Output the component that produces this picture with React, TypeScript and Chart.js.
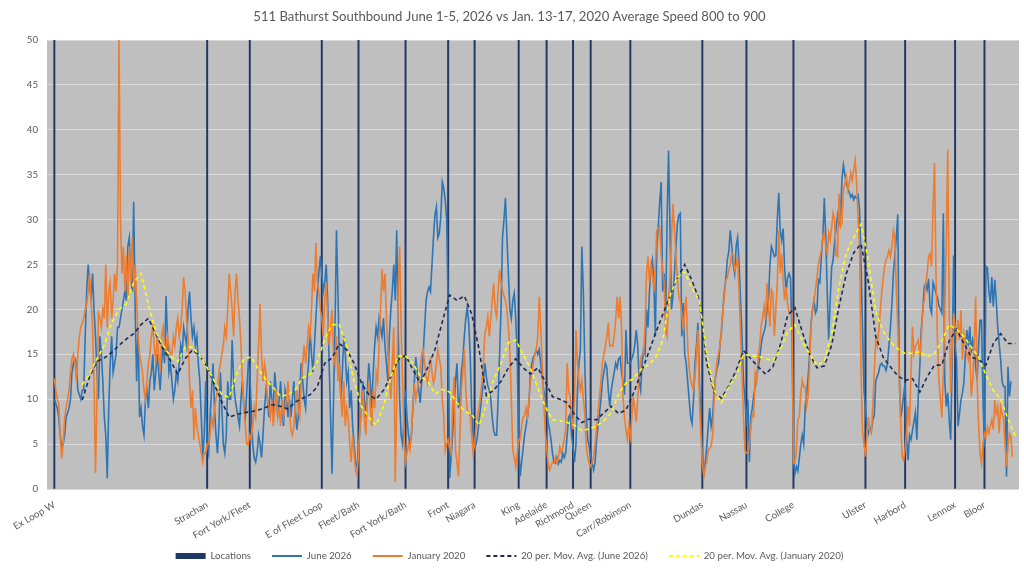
import React, { useEffect, useRef } from "react";
import { Chart, registerables } from "chart.js";

Chart.register(...registerables);

const TITLE = "511 Bathurst Southbound June 1-5, 2026 vs Jan. 13-17, 2020 Average Speed 800 to 900";
const FONT = "Lato, 'Open Sans', sans-serif";
const TEXT_COLOR = "#595959";

const LOCATION_NAMES = [
  "Ex Loop W", "Strachan", "Fort York/Fleet", "E of Fleet Loop", "Fleet/Bath", "Fort York/Bath",
  "Front", "Niagara", "King", "Adelaide", "Richmond", "Queen", "Carr/Robinson", "Dundas",
  "Nassau", "College", "Ulster", "Harbord", "Lennox", "Bloor",
];
const LOCATION_INDEX = [0, 104, 133, 182, 207, 239, 268, 286, 316, 335, 353, 365, 392, 441, 471, 503, 552, 579, 613, 633];
const LOCATION_HEIGHT = 50;

const JUNE_2026 = [
  10, 9.5, 9, 8, 6, 4.7, 5, 6, 8, 8.5, 9, 10, 13, 14, 14.5, 14, 11, 10.5, 10, 11,
  11, 17, 22, 25, 23, 21, 24, 20, 17, 13, 10, 17, 15, 12, 8, 6, 1.2, 9, 14, 17,
  13, 14, 15, 18, 18, 19, 20, 21, 22, 21, 27, 28, 24, 22, 32, 20, 12, 18, 8, 9,
  7, 6, 10, 11, 9, 12, 13, 15, 11, 13, 15, 13, 11, 14, 16, 14, 21.5, 17, 13, 14,
  12, 10, 11, 13, 12, 14, 16, 15, 18, 17, 16, 20, 22, 19, 17, 18, 16, 17, 14, 12,
  8, 3.5, 6, 12, 5, 4, 8, 11, 14, 9, 6, 4, 7, 13, 9, 5, 4, 6, 12, 10,
  10, 16.6, 12, 10, 9, 8, 7, 10, 12, 9, 8, 11, 14, 13, 9, 5, 3.5, 3, 4, 6,
  5, 3.5, 6, 9, 11, 10, 8, 12, 10, 9, 13, 11, 8, 10, 12, 9, 7, 11, 10, 8,
  10, 8, 10, 12, 9, 6.6, 8, 11, 14, 12, 10, 9, 12, 14, 17.7, 15, 13, 16, 19, 22,
  24, 25.9, 24, 22, 23, 25, 21, 14, 8, 1.7, 10, 18, 28.8, 22, 14, 10, 13, 17, 15, 12,
  13, 9, 11, 7, 5, 3, 2.5, 4, 7, 9, 12, 10, 8, 11, 14, 12, 9, 13, 16, 18,
  17, 19, 18, 17, 19, 16, 14, 12, 17, 20, 22, 25, 21, 28.8, 18, 10, 6, 5, 8, 11,
  8, 6, 5,
  6, 9, 12, 14.7, 13, 11, 9.6, 12, 15, 18,
  21, 22, 22.5, 22, 25, 28, 30.5, 31.4, 28, 28.5,
  30.3, 34.2, 33.5, 32.2, 30, 20, 1.2, 3.5, 6, 9,
  12, 14, 9, 10, 13, 14.5, 17, 19, 20.3, 18.5,
  15, 9, 6, 5.1, 5, 6, 7.5, 9, 10.5, 12,
  14, 12.5, 11.5, 11, 10, 8, 6.5, 6, 6, 10,
  15, 20, 28, 30, 32.4, 28, 24, 20, 19, 21,
  21.8, 19, 15, 5, 1.4, 3, 4.5, 6, 7, 8,
  9.6,
  13, 14, 14.7, 15, 15.5, 15, 15.5, 14, 12.5, 11,
  10.3, 9, 7.5, 6.6, 5.5, 4, 3, 2.9, 3.5, 2.8,
  3.2, 3, 4, 3.5, 4, 6, 8, 8.3, 6, 4.7,
  3, 5, 11, 14, 15.5, 27, 22, 14, 8, 5.5,
  4.7, 3.5, 2.9, 2.1, 3, 5.4, 7, 8.4, 10, 12,
  13, 14, 13.5, 11, 9.2, 11, 12, 13, 14, 13.5,
  14.5, 14.7, 13, 12, 10.5, 17.7, 14, 14,
  14, 14.5, 15, 16, 17.7, 16, 12, 11, 14, 15.5,
  15, 20, 18, 22, 24.5, 25.5, 23, 17, 27, 29.2,
  32, 34.2, 22, 24, 19, 30, 37.7, 28.8, 20, 21.5,
  24, 27, 29.5, 30.5, 30.7, 17, 20.7, 15, 14, 12,
  10, 8, 7.3, 10, 14, 16, 18.5, 12, 8, 4,
  1.4, 3, 4.7, 7, 9, 7, 8, 11, 12.5, 13.5,
  14, 16, 17.5, 20, 22, 23.5, 25.5, 26.5, 28.8, 27,
  25, 24, 27, 28, 25, 21, 17, 12, 10, 7,
  10, 3,
  8, 9, 10.5, 11.4, 12.5, 13.5, 14.5, 16, 17, 17.5,
  18.2, 20, 21, 25, 27, 26.5, 25.9, 26, 30, 33,
  28.8, 27.7, 29, 24.5, 22, 23.5, 24, 23.5, 17, 3.2,
  1.7, 2.5, 2, 3.5, 5, 6, 5, 9.2, 10.5, 12.5,
  15, 18.5, 20, 21, 19.6, 20, 23.3, 23, 26, 28,
  32.4, 28, 22, 16.6, 21, 24.7, 25.5, 27.5, 29, 30.5,
  29.5, 30, 34.5, 36.1, 35, 34, 33.5, 33, 32.5, 32.8,
  32.2, 32.6, 32.4, 32.7, 31, 25, 18, 11,
  9, 7, 6.2, 6.9, 6.5, 7.7, 8.2, 12, 12.5, 13,
  13.8, 14, 13.7, 13.7, 13.2, 14, 16, 18, 20.5, 24,
  25.9, 28, 30.6, 13, 8, 9, 10.5, 11.8, 5.5, 3.2,
  6, 5.5, 6.5, 7.5, 8.5, 5.5, 10.6, 13.6, 17.8, 19.8,
  22.5, 22.9, 22.2, 23.4, 20.2, 19.6, 23, 22.5, 21.8, 21.3,
  20.4, 20, 19.6, 30.7, 12, 9.2, 10.7, 7.7, 5.5, 14,
  26, 16, 14.4, 7, 8.4, 9.9, 10.7, 11.8, 15, 17.7,
  15.9, 18.1, 15.1, 16.6, 15.9, 13.6, 12.1, 16, 18.8, 18.8,
  10, 4.7, 24.8, 24.6, 22, 20.7, 23.6, 20.3, 23.3, 21,
  18.1, 16.2, 14.4, 12, 11.4, 11.4, 1.4, 13.6, 10.3, 12,
];

const JANUARY_2020 = [
  12.3, 11, 10, 9.5, 6, 3.4, 5, 8, 9, 10, 11, 13, 14.5, 15, 14, 12, 15, 17, 18, 18.5,
  19, 20, 20.5, 22, 24, 21, 18, 12, 1.8, 10, 19.6, 19, 18, 20, 19, 25, 18, 22, 23, 19,
  21, 24, 22, 25, 50, 30, 24, 27, 22, 26, 21, 27, 23, 28, 22, 25, 21, 17, 15, 14,
  13, 11, 10, 12, 14, 15, 17, 18, 16, 14, 17, 15, 13, 17, 18, 16, 15, 17, 16, 15,
  15, 17, 16, 18, 19, 17, 18, 20, 23.6, 22, 19, 17, 12, 9, 11, 5.5, 9, 7, 6, 5,
  4, 3, 4, 4, 5, 5, 6, 8, 7, 9, 10, 11, 13, 14, 15, 16, 18, 17, 20, 24,
  22, 20, 17, 22, 24, 21, 19, 16, 12, 9, 7, 5, 5, 6, 5.5, 7, 9, 8, 12, 16,
  20.6, 15, 12, 14, 13, 10, 9, 8, 10, 7, 9, 11, 8, 9, 7, 10, 8, 9, 10, 12,
  9, 6.6, 6, 7, 9, 11, 9, 8, 12, 14, 16, 14, 16, 18, 17, 20, 24, 22, 27.4, 23,
  22, 20, 19, 17, 21, 23, 19, 16, 18, 20, 15, 14, 17, 12, 14, 10, 8, 12, 7, 9,
  8, 5, 3, 6, 4, 2, 1.5, 4, 7, 9, 11, 8, 6, 10, 12, 9, 7, 11, 9, 13,
  12, 16, 20, 24.5, 22, 24, 19, 15, 12, 10, 14, 18, 0.8, 10, 22, 27, 18, 12, 6, 3,
  4, 5, 4.3,
  6, 9, 11.8, 10, 11, 12, 13.5, 15, 15.5, 14,
  12.5, 11.8, 13, 14.7, 13, 11.8, 12.5, 14, 15.5, 14.5,
  13.6, 10, 8.1, 4.3, 5, 5.5, 4.5, 4, 9, 12.5,
  4.3, 3, 1.4, 6, 11, 13, 15.5, 11, 8.8, 8.5,
  8.1, 6, 4, 5, 7, 8.1, 9, 10.3, 12, 14,
  17.3, 18, 19.2, 17, 19, 21, 22.9, 20, 19.2, 22,
  24.4, 23, 22.1, 21.5, 21, 20, 18, 15.5, 10, 4.3,
  3.5, 2.5, 4, 5.5, 5.5, 7, 8, 8.1, 9, 8,
  10,
  12, 13, 14, 15, 15.5, 17, 21.4, 18, 14, 10,
  6.6, 4.5, 2.9, 2.1, 2.5, 3, 2.9, 3.5, 2.9, 3.5,
  4.7, 4, 4.7, 5.5, 6.6, 14, 11, 10.3, 8, 6.6,
  10, 17.7, 14, 12.1, 11, 12.1, 10, 8.5, 4.7, 3.5,
  2.9, 2.5, 2.9, 3.6, 5, 6.6, 8.5, 10.3, 12, 14,
  15, 15.9, 17, 18.5, 15.9, 16, 15.9, 17, 18.8, 21.4,
  19, 21.4, 18, 10.3, 8, 6.6, 5.5, 7,
  5.8, 8, 10.3, 9, 7.5, 10, 12.5, 14.5, 15, 15,
  18, 24, 25.9, 23, 25, 24, 22, 25, 28.8, 29,
  29.2, 26, 24.5, 23, 17.7, 17, 21.4, 23.6, 28, 31.8,
  29, 26, 23.5, 21.4, 21, 19.5, 17.7, 20, 21.4, 16,
  13.5, 12.2, 11.5, 11, 12.5, 15, 17.7, 10, 6, 3,
  1.4, 2.5, 3, 4.3, 4.5, 4.8, 6, 10, 12.5, 14.3,
  15, 16, 18, 20, 21.5, 23.3, 23.5, 24.4, 25, 26.3,
  26, 24.4, 24.8, 25.9, 22, 17, 13, 8, 4.3, 4,
  4, 5,
  7, 8.3, 8.1, 12.9, 12.1, 14.7, 16, 18.1, 19, 20.3,
  18.8, 22.9, 20.3, 18.1, 22.2, 21.8, 17, 20, 22.9, 28.8,
  24, 26.2, 23.3, 21, 22.5, 20.7, 19.6, 19.6, 19.6, 2.9,
  2.9, 4.3, 7.7, 8.1, 10.7, 12.1, 11.4, 11.4, 9.2, 10.3,
  14, 18.1, 20, 21, 22.2, 23.5, 25.1, 25.8, 26.6, 28.1,
  28.5, 27, 26.2, 28.5, 27.7, 29.2, 30.7, 30, 26, 25.9,
  32.9, 29.2, 29.6, 33.3, 34, 34.8, 33.3, 34.1, 35.2, 34.4,
  35.5, 36.6, 34.1, 30, 27, 12.9, 6.5, 5,
  3.6, 6, 8, 6.5, 6.2, 9.2, 13, 16.6, 15.9, 17.5,
  19.6, 21.8, 23.3, 24.8, 25.5, 25.9, 26.6, 25.9, 27, 28.8,
  28.1, 22.2, 18.1, 12.1, 7.3, 3.6, 3.2, 4.5, 6.5, 9.2,
  7, 12.9, 18.1, 15.1, 15.9, 16.2, 16.6, 14.7, 16.6, 20.3,
  21, 22.9, 24, 25.9, 26.2, 24.8, 31.4, 36.3, 24, 16.6,
  12.1, 10, 8, 12.9, 19.6, 27.7, 37.8, 20, 10.7, 15.9,
  19.6, 18.1, 17, 18.8, 16.6, 19.9, 14.4, 17.3, 16.2, 15,
  14.4, 15.9, 10.3, 12.1, 15.9, 21.4, 12.1, 7, 4, 2.9,
  5.1, 6.2, 5.8, 6.9, 6.2, 7, 7.7, 6.6, 9.9, 8.4,
  9.2, 6.2, 9.2, 8.4, 7.7, 5, 2.5, 4.7, 6.2, 5.8,
  3.6,
];

const MA_START = 19;
const MA_STEP = 5;
const MA_JUNE_2026 = [
  9.9, 12.5, 14.2, 14.6, 15.2, 16, 16.7, 17.3, 18.3, 19,
  17.3, 15.6, 14.3, 12.8, 14.5, 15.5, 14.8, 13.6, 11.6, 9.7,
  8, 8.3, 8.5, 8.6, 8.8, 9.1, 9.4, 9.2, 8.9, 9.7,
  10.1, 10.5, 11.4, 14, 14.6, 16.2, 15.5, 14, 11.8, 10.5,
  10, 11, 12.5, 14.4, 14.9, 13.3, 11.8, 13.5, 15.5, 18.6,
  21.6, 21, 21.5, 19.5, 15.6, 10.4, 11, 12, 13.5, 14.5,
  13.5, 12.8, 13.5, 12, 10.3, 10, 9.6, 8.3, 7.4, 7.8,
  7.7, 8.5, 9.2, 8.4, 8.8, 10.6, 12.8, 15, 17.3, 19.4,
  21.5, 23.5, 25, 23.2, 21, 14, 10.8, 10.1, 11.5, 13.2,
  15.4, 14.5, 13.6, 12.8, 13.6, 16, 19.3, 20.2, 17.5, 15,
  13.5, 13.7, 16, 20.3, 24, 26.3, 27.3, 23, 17, 14.7,
  13.6, 12.6, 12.1, 12.3, 10.8, 12.5, 13.8, 13.8, 16.5, 17.8,
  16.2, 14.7, 14.4, 13.8, 16.2, 17.3, 16.2, 16.2,
];
const MA_JANUARY_2020 = [
  11.6, 12.8, 14.5, 16, 18.5, 20, 20.6, 23, 24, 20.5,
  17.5, 16, 14.8, 14.2, 15.8, 15.8, 14.8, 13.5, 12, 10.5,
  10.2, 12.8, 14.5, 14.7, 13.3, 12.2, 11.3, 10.3, 10.5, 11.1,
  12.4, 12.8, 14.2, 16.7, 18.3, 18.3, 15.8, 12, 9.2, 8,
  7.1, 9.2, 12.5, 14.8, 14.8, 14, 12.6, 12, 10.6, 11.1,
  10.8, 9.6, 8.7, 8.3, 7.1, 9.4, 12.2, 14, 16.3, 16.6,
  15, 13.4, 11.3, 9.2, 7.7, 7.6, 7.4, 7.1, 6.5, 6.7,
  7, 7.6, 8.5, 10.6, 11.8, 12.3, 13.3, 13.8, 14.6, 16.5,
  21.5, 23.6, 24.2, 22.3, 21, 15, 11, 9.6, 11.4, 12.6,
  15, 14.8, 14.8, 14.5, 14.3, 15.5, 17.5, 18.3, 16.5, 15,
  13.8, 14.2, 17.3, 22.5, 26.3, 28, 29.5, 25.4, 19.7, 17.6,
  16.4, 15.6, 15.1, 15.1, 15.3, 14.7, 15.1, 16.5, 18.3, 17.8,
  17, 15.8, 14.7, 12.7, 11, 10, 7.8, 5.9,
];

const Y_MIN = 0;
const Y_MAX = 50;
const Y_STEP = 5;

export default function App() {
  const canvasRef = useRef<HTMLCanvasElement | null>(null);

  useEffect(() => {
    const canvas = canvasRef.current;
    if (!canvas) return;

    const plotBackground = {
      id: "plotBackground",
      beforeDraw(chart: any) {
        const { ctx, chartArea } = chart;
        if (!chartArea) return;
        ctx.save();
        ctx.fillStyle = "#bfbfbf";
        ctx.fillRect(chartArea.left, chartArea.top, chartArea.right - chartArea.left, chartArea.bottom - chartArea.top);
        ctx.restore();
      },
    };

    const baseGenerate = (Chart as any).defaults.plugins.legend.labels.generateLabels;

    const chart = new Chart(canvas, {
      type: "line",
      data: {
        datasets: [
          {
            type: "bar",
            label: "Locations",
            data: LOCATION_INDEX.map((i) => ({ x: i, y: LOCATION_HEIGHT })),
            backgroundColor: "#1f3864",
            borderWidth: 0,
            barThickness: 1.3,
            order: 5,
          } as any,
          {
            label: "June 2026",
            data: JUNE_2026.map((v, i) => ({ x: i, y: v })),
            borderColor: "#2e75b6",
            backgroundColor: "#2e75b6",
            borderWidth: 1.6,
            pointRadius: 0,
            tension: 0,
            order: 4,
          },
          {
            label: "January 2020",
            data: JANUARY_2020.map((v, i) => ({ x: i, y: v })),
            borderColor: "#ed7d31",
            backgroundColor: "#ed7d31",
            borderWidth: 1.6,
            pointRadius: 0,
            tension: 0,
            order: 3,
          },
          {
            label: "20 per. Mov. Avg. (June 2026)",
            data: MA_JUNE_2026.map((v, m) => ({ x: MA_START + MA_STEP * m, y: v })),
            borderColor: "#1f2a52",
            backgroundColor: "#1f2a52",
            borderWidth: 1.6,
            borderDash: [4, 3],
            pointRadius: 0,
            tension: 0,
            order: 2,
          },
          {
            label: "20 per. Mov. Avg. (January 2020)",
            data: MA_JANUARY_2020.map((v, m) => ({ x: MA_START + MA_STEP * m, y: v })),
            borderColor: "#ffff00",
            backgroundColor: "#ffff00",
            borderWidth: 1.6,
            borderDash: [4, 3],
            pointRadius: 0,
            tension: 0,
            order: 1,
          },
        ],
      },
      options: {
        responsive: false,
        animation: false,
        events: [],
        layout: { padding: { left: 0, right: 5, top: 0, bottom: 1.2 } },
        font: { family: FONT },
        plugins: {
          tooltip: { enabled: false },
          title: {
            display: true,
            text: TITLE,
            color: TEXT_COLOR,
            font: { family: FONT, size: 13.1, weight: "normal" },
            padding: { top: 9, bottom: 15.3 },
          },
          legend: {
            position: "bottom",
            labels: {
              usePointStyle: true,
              pointStyleWidth: 30,
              boxHeight: 6,
              padding: 21,
              color: TEXT_COLOR,
              font: { family: FONT, size: 9.7 },
              sort: (a: any, b: any) => a.datasetIndex - b.datasetIndex,
              generateLabels: (c: any) =>
                baseGenerate(c).map((item: any) => {
                  const ds = c.data.datasets[item.datasetIndex];
                  if (item.datasetIndex === 0) {
                    return { ...item, pointStyle: "rect", lineWidth: 0, fillStyle: ds.backgroundColor };
                  }
                  return {
                    ...item,
                    pointStyle: "line",
                    lineWidth: 2,
                    strokeStyle: ds.borderColor,
                    lineDash: ds.borderDash || [],
                  };
                }),
            },
          },
        },
        scales: {
          x: {
            type: "linear",
            offset: false,
            min: -5,
            max: 656.5,
            grid: { display: false, drawTicks: false },
            border: { display: false },
            afterBuildTicks: (scale: any) => {
              scale.ticks = LOCATION_INDEX.map((v) => ({ value: v }));
            },
            afterFit: (scale: any) => {
              scale.height = 41.1;
            },
            afterUpdate: (scale: any) => {
              scale._computeLabelArea = () => undefined;
            },
            ticks: {
              autoSkip: false,
              minRotation: 30,
              maxRotation: 30,
              padding: 10,
              color: TEXT_COLOR,
              font: { family: FONT, size: 9.7 },
              callback: (_v: any, index: number) => LOCATION_NAMES[index] ?? "",
            },
          },
          y: {
            min: Y_MIN,
            max: Y_MAX,
            grid: { color: "#d9d9d9", drawTicks: false, lineWidth: 1 },
            border: { display: false },
            afterFit: (scale: any) => {
              scale.width = 47;
            },
            ticks: {
              stepSize: Y_STEP,
              padding: 9,
              color: TEXT_COLOR,
              font: { family: FONT, size: 9.7 },
            },
          },
        },
      },
      plugins: [plotBackground],
    } as any);

    return () => chart.destroy();
  }, []);

  return (
    <div style={{ position: "absolute", left: 0, top: 0, width: 1024, height: 572, background: "#ffffff" }}>
      <canvas ref={canvasRef} width={1024} height={572} style={{ display: "block" }} />
    </div>
  );
}
